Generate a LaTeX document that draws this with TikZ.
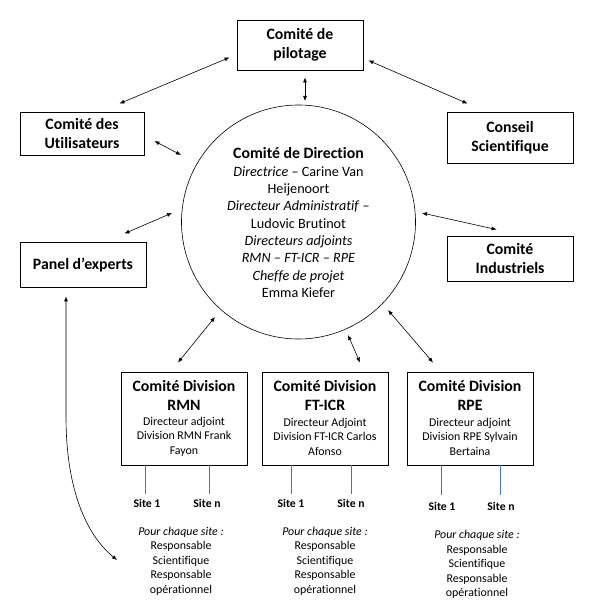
\documentclass[tikz,border=0pt]{standalone}
\usepackage{fontspec}
\setmainfont{Carlito}[Ligatures=NoCommon]
\usetikzlibrary{arrows.meta}
\definecolor{lnblue}{HTML}{4472C4}
\begin{document}
\begin{tikzpicture}[x=1pt,y=-1pt,
  box/.style={draw,line width=0.9pt,inner sep=0pt,align=center,
    font=\fontsize{15.8}{19}\selectfont\bfseries},
  divbox/.style={draw,line width=0.9pt,inner sep=0pt,minimum width=126pt,minimum height=93pt},
  divtitle/.style={inner sep=0pt,align=center,font=\fontsize{15.8}{19}\selectfont\bfseries},
  divbody/.style={inner sep=0pt,align=center,font=\fontsize{11.9}{14.5}\selectfont},
  sitelbl/.style={inner sep=0pt,font=\fontsize{11.7}{13}\selectfont\bfseries},
  pourtxt/.style={inner sep=0pt,align=center,font=\fontsize{11.9}{14.5}\selectfont},
  blueln/.style={draw=lnblue,line width=0.8pt},
  arr/.style={{Latex[length=5pt,width=4pt]}-{Latex[length=5pt,width=4pt]},line width=0.6pt}]
\useasboundingbox (0,0) rectangle (596,615);

% top-level boxes
\node[box,minimum width=126pt,minimum height=50pt] (pil) at (300,45) {Comité de\\pilotage};
\node[box,minimum width=124pt,minimum height=43pt] (util) at (82,133.5) {Comité des\\Utilisateurs};
\node[box,minimum width=126pt,minimum height=51pt] (cons) at (510,137.5) {Conseil\\Scientifique};
\node[box,minimum width=126pt,minimum height=45pt] (panel) at (83,264.5) {Panel d’experts};
\node[box,minimum width=126pt,minimum height=45pt] (ind) at (510,258.5) {Comité\\Industriels};

% central circle
\node[draw,circle,minimum size=234pt,inner sep=0pt,line width=0.6pt] (circ) at (298.5,222) {};
\node[divtitle] (dirt) at (298.5,153) {Comité de Direction};
\node[inner sep=0pt,align=center,font=\fontsize{14.2}{17.3}\selectfont] (dirb) at (298.5,232) {\textit{Directrice} – Carine Van\\Heijenoort\\\textit{Directeur Administratif} –\\Ludovic Brutinot\\\textit{Directeurs adjoints}\\\textit{RMN – FT-ICR – RPE}\\\textit{Cheffe de projet}\\Emma Kiefer};

% division boxes
\node[divbox] (rmn) at (184,418.5) {};
\node[divbox] (ft) at (325,418.5) {};
\node[divbox] (rpe) at (470,418.5) {};
\node[divtitle] (rmnt) at (184,395.5) {Comité Division\\RMN};
\node[divtitle] (ftt) at (325,395.5) {Comité Division\\FT-ICR};
\node[divtitle] (rpet) at (470,395.5) {Comité Division\\RPE};
\node[divbody] (rmnb) at (184,436.5) {Directeur adjoint\\Division RMN Frank\\Fayon};
\node[divbody] (ftb) at (325,436.5) {Directeur Adjoint\\Division FT-ICR Carlos\\Afonso};
\node[divbody] (rpeb) at (470,436.5) {Directeur adjoint\\Division RPE Sylvain\\Bertaina};

% sites
\node[sitelbl] (s11) at (147,503) {Site 1};
\node[sitelbl] (s1n) at (207,503) {Site n};
\node[sitelbl] (s21) at (291,503) {Site 1};
\node[sitelbl] (s2n) at (351,503) {Site n};
\node[sitelbl] (s31) at (442,506) {Site 1};
\node[sitelbl] (s3n) at (501,506) {Site n};
\draw[blueln] ([xshift=-2pt]s11.north |- rmn.south) -- ([shift={(-2,-5)}]s11.north);
\draw[blueln] ([xshift=2pt]s1n.north |- rmn.south) -- ([shift={(2,-5)}]s1n.north);
\draw[blueln] (s21.north |- ft.south) -- ([shift={(0,-5)}]s21.north);
\draw[blueln] (s2n.north |- ft.south) -- ([shift={(0,-5)}]s2n.north);
\draw[blueln] ([xshift=-1pt]s31.north |- rpe.south) -- ([shift={(-1,-7)}]s31.north);
\draw[blueln] ([xshift=-1pt]s3n.north |- rpe.south) -- ([shift={(-1,-7)}]s3n.north);

\node[pourtxt] (p1) at (181,561) {\textit{Pour chaque site :}\\Responsable\\Scientifique\\Responsable\\opérationnel};
\node[pourtxt] (p2) at (325,561) {\textit{Pour chaque site :}\\Responsable\\Scientifique\\Responsable\\opérationnel};
\node[pourtxt] (p3) at (477,564.5) {\textit{Pour chaque site :}\\Responsable\\Scientifique\\Responsable\\opérationnel};

% connectors
\draw[arr] ([shift={(-7,-13)}]pil.south west) -- ([shift={(-25,-8)}]util.north east);
\draw[arr] ([shift={(5,-10)}]pil.south east) -- ([shift={(21,-8)}]cons.north west);
\draw[arr] ([shift={(5,7)}]pil.south) -- ([shift={(6.5,-121)}]circ.center);
\draw[arr] ([shift={(10,7.5)}]util.east) -- ([shift={(-117.5,-67)}]circ.center);
\draw[arr] ([shift={(-22,-8)}]panel.north east) -- ([shift={(-126.5,-9)}]circ.center);
\draw[arr] ([shift={(123.5,-9)}]circ.center) -- ([shift={(50,-6)}]ind.north west);
\draw[arr] ([shift={(-6,-9)}]rmn.north) -- ([shift={(-83.5,95)}]circ.center);
\draw[arr] ([shift={(49.5,113)}]circ.center) -- ([shift={(35,-9)}]ft.north);
\draw[arr] ([shift={(89.5,88)}]circ.center) -- ([shift={(-37,-9)}]rpe.north);
\draw[arr] ([shift={(-17,9)}]panel.south) -- ++(0,120) .. controls ++(0,80) and ++(-27,-22) .. ([shift={(-21,-1)}]p1.west);
\end{tikzpicture}
\end{document}
